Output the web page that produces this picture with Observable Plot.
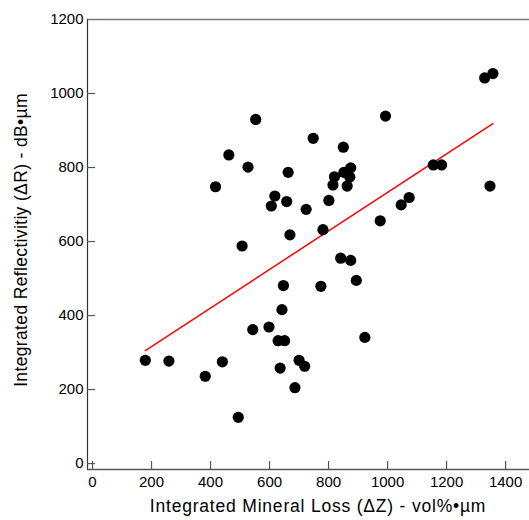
<!DOCTYPE html>
<html>
<head>
<meta charset="utf-8">
<script src="https://cdn.jsdelivr.net/npm/d3@7"></script>
<script src="https://cdn.jsdelivr.net/npm/@observablehq/plot@0.6"></script>
<style>
  html, body { margin: 0; padding: 0; background: #fff; }
  #chart svg { display: block; }
</style>
</head>
<body>
<div id="chart"></div>
<script>
// Integrated Mineral Loss (ΔZ), vol%·µm
const mineralLoss = [
  1329, 1357, 553, 993, 748, 462, 850,
  527, 417, 663, 875, 852, 820, 872, 815, 863, 618, 606, 658, 724, 801,
  1155, 1183, 1347, 1073, 1046, 975, 781, 669, 507, 841, 875, 894, 647, 774,
  642, 598, 543, 629, 651, 923, 179, 259, 440, 382, 700, 636, 719, 686, 494
];
// Integrated Reflectivity (ΔR), dB·µm
const reflectivity = [
  1042, 1054, 930, 939, 879, 834, 855,
  801, 748, 787, 799, 787, 775, 774, 753, 750, 723, 696, 708, 687, 711,
  807, 807, 750, 719, 699, 656, 632, 618, 588, 555, 549, 495, 481, 479,
  416, 369, 362, 332, 332, 341, 279, 277, 275, 236, 279, 258, 263, 205, 125
];
const xTicks = [0, 200, 400, 600, 800, 1000, 1200, 1400];
const yTicks = [0, 200, 400, 600, 800, 1000, 1200];
const xDomain = [-17, 1481];
const yDomain = [-16, 1200];
const xTitle = "Integrated Mineral Loss (ΔZ) - vol%•µm";
const yTitle = "Integrated Reflectivitiy (ΔR) - dB•µm";

const data = mineralLoss.map((x, i) => ({x, y: reflectivity[i]}));
const fmt = d => String(d);

const chart = Plot.plot({
  width: 529,
  height: 520,
  marginLeft: 87,
  marginRight: 0,
  marginTop: 19,
  marginBottom: 51,
  style: {fontFamily: "'Liberation Sans', Arial, sans-serif", fontSize: "15px", color: "#000", background: "#fff"},
  x: {domain: xDomain, ticks: xTicks},
  y: {domain: yDomain, ticks: yTicks},
  marks: [
    // frame lines
    Plot.ruleY([yDomain[1]], {stroke: "#777", strokeWidth: 1.5}),
    Plot.ruleY([yDomain[0]], {stroke: "#555", strokeWidth: 1.5}),
    Plot.ruleX([xDomain[0]], {stroke: "#333", strokeWidth: 1.2}),
    // inward tick marks
    Plot.axisX(xTicks, {tickSize: -8, tickFormat: () => "", stroke: "#555", strokeWidth: 1.2, label: null}),
    Plot.axisY(yTicks.slice(0, -1), {tickSize: -8, tickFormat: () => "", stroke: "#555", strokeWidth: 1.2, label: null}),
    // tick labels
    Plot.axisX(xTicks, {tickSize: 0, tickPadding: 7, fontSize: 15, tickFormat: fmt, label: null}),
    Plot.axisY(yTicks, {tickSize: 0, tickPadding: 4, fontSize: 15, tickFormat: fmt, label: null}),
    // regression line
    Plot.linearRegressionY(data, {x: "x", y: "y", stroke: "red", strokeWidth: 1.5, ci: 0}),
    // points
    Plot.dot(data, {x: "x", y: "y", r: 5.6, fill: "#000", stroke: "none"}),
    // titles
    Plot.text([xTitle], {frameAnchor: "bottom", dy: 42, dx: 9.5, textAnchor: "middle", fontSize: 17.5, fill: "#000"}),
    Plot.text([yTitle], {frameAnchor: "left", dx: -66, dy: -4.5, textAnchor: "middle", rotate: -90, fontSize: 17.5, fill: "#000"})
  ]
});
const titleGroups = chart.querySelectorAll('g[aria-label="text"]');
if (titleGroups[0]) titleGroups[0].querySelectorAll("text").forEach(t => t.style.letterSpacing = "0.8px");
if (titleGroups[1]) titleGroups[1].querySelectorAll("text").forEach(t => t.style.letterSpacing = "0.35px");
document.getElementById("chart").appendChild(chart);
</script>
</body>
</html>
